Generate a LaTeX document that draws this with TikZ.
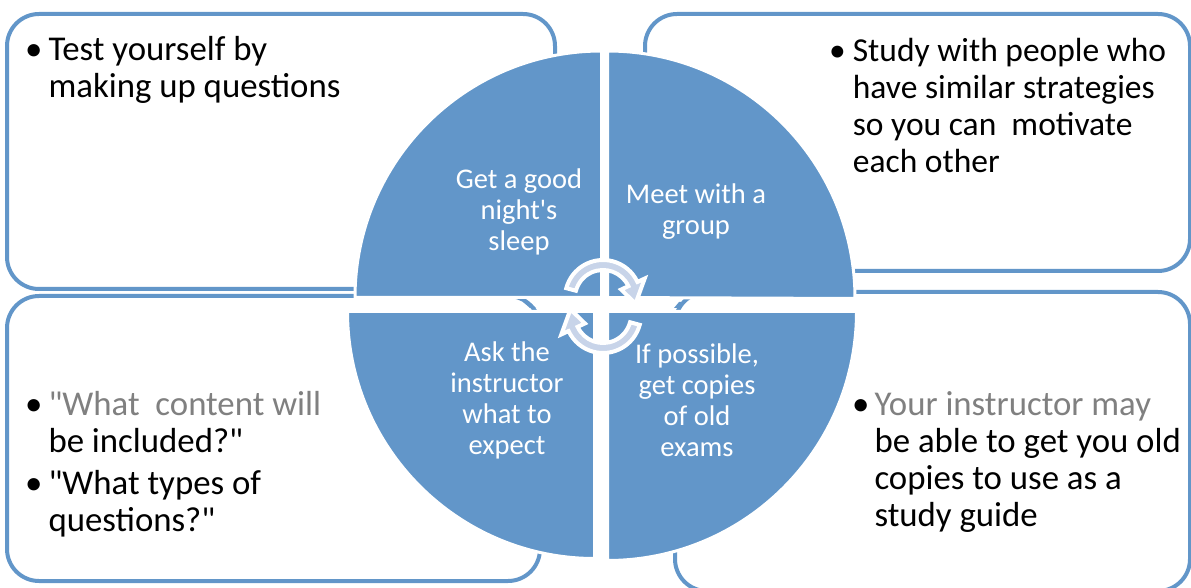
\documentclass[tikz,border=0pt]{standalone}
\usepackage{fontspec}
\setmainfont{Carlito}[Ligatures=TeXOff]
\usepackage{tikz}
\usetikzlibrary{positioning}
\tikzset{>=latex}
\definecolor{quadblue}{RGB}{98,150,201}
\definecolor{bandfill}{RGB}{200,212,233}
\definecolor{softgray}{RGB}{128,128,128}

\begin{document}
\begin{tikzpicture}[x=1pt, y=1pt,
    panel/.style={draw=quadblue, line width=4pt, fill=white, rounded corners=32pt},
    quad/.style={fill=quadblue, draw=white, line width=3pt},
    band/.style={fill=bandfill, draw=white, line width=4pt},
    quadtext/.style={text=white, align=center, inner sep=0pt, font=\fontsize{28.5}{31}\selectfont},
    boxtext/.style={anchor=base west, inner sep=0pt, font=\fontsize{34.8}{37}\selectfont}]
    \useasboundingbox (0, 0) rectangle (1191, 587);
    \clip (0, 0) rectangle (1191, 587);
    \draw[panel](7, 573)rectangle(555, 298);
    \draw[panel](645, 573)rectangle(1190, 316);
    \draw[panel](7, 291)rectangle(540, 6);
    \draw[panel](675, 295)rectangle(1190, -4);
    \fill[quadblue](523, 285)--(529, 285)--(536, 279)--(530, 279)--cycle;
    \fill[quadblue](679, 285)--(685, 285)--(680, 279)--(674, 279)--cycle;
    \filldraw[quad](601.5, 289.5)--(355, 289.5)arc[start angle=180, end angle=90, radius=246.5]--cycle;
    \filldraw[quad](607.5, 289.5)--(607.5, 536)arc[start angle=90, end angle=0, radius=247.5]--cycle;
    \filldraw[quad](594.5, 275.5)--(594.5, 28.5)arc[start angle=270, end angle=180, radius=247]--cycle;
    \filldraw[quad](607.5, 275.5)--(856.5, 275.5)arc[start angle=0, end angle=-90, radius=249]--cycle;
    \filldraw[band, shift={(603, 289)}](165:38)arc[start angle=165, end angle=25, radius=38]
        --(25:46)--(-10:33)--(25:20)--(25:28)arc[start angle=25, end angle=165, radius=28]--cycle;
    \filldraw[band, shift={(603, 272)}, rotate=180](165:38)arc[start angle=165, end angle=25, radius=38]
        --(25:46)--(-10:33)--(25:20)--(25:28)arc[start angle=25, end angle=165, radius=28]--cycle;
    \node[quadtext] (sleep) at (519, 375) {Get a good\\night's\\sleep};
    \node[quadtext] (group) at (696, 375) {Meet with a\\group};
    \node[quadtext] (ask) at (507, 187) {Ask the\\instructor\\what to\\expect};
    \node[quadtext] (exams) at (697, 187) {If possible,\\get copies\\of old\\exams};
    \node[boxtext] (selftest) at (25, 526) {\begin{tabular}[t]{@{}l@{\hspace{6pt}}l@{}}
        \textbullet & Test yourself by\\ & making up questions\end{tabular}};
    \node[boxtext, font=\fontsize{33.5}{37}\selectfont] (peers) at (829, 525) {\begin{tabular}[t]{@{}l@{\hspace{7pt}}l@{}}
        \textbullet & Study with people who\\ & have similar strategies\\
        & so you can\ \ motivate\\ & each other\end{tabular}};
    \node[boxtext] (content) at (25, 172) {\begin{tabular}[t]{@{}l@{\hspace{6pt}}l@{}}
        \textbullet & \textcolor{softgray}{"What\ \ content will}\\ & be included?"\\[5pt]
        \textbullet & "What types of\\ & questions?"\end{tabular}};
    \node[boxtext] (oldcopies) at (852, 172) {\begin{tabular}[t]{@{}l@{\hspace{5pt}}l@{}}
        \textbullet & \textcolor{softgray}{Your instructor may}\\ & be able to get you old\\
        & copies to use as a\\ & study guide\end{tabular}};
\end{tikzpicture}
\end{document}
